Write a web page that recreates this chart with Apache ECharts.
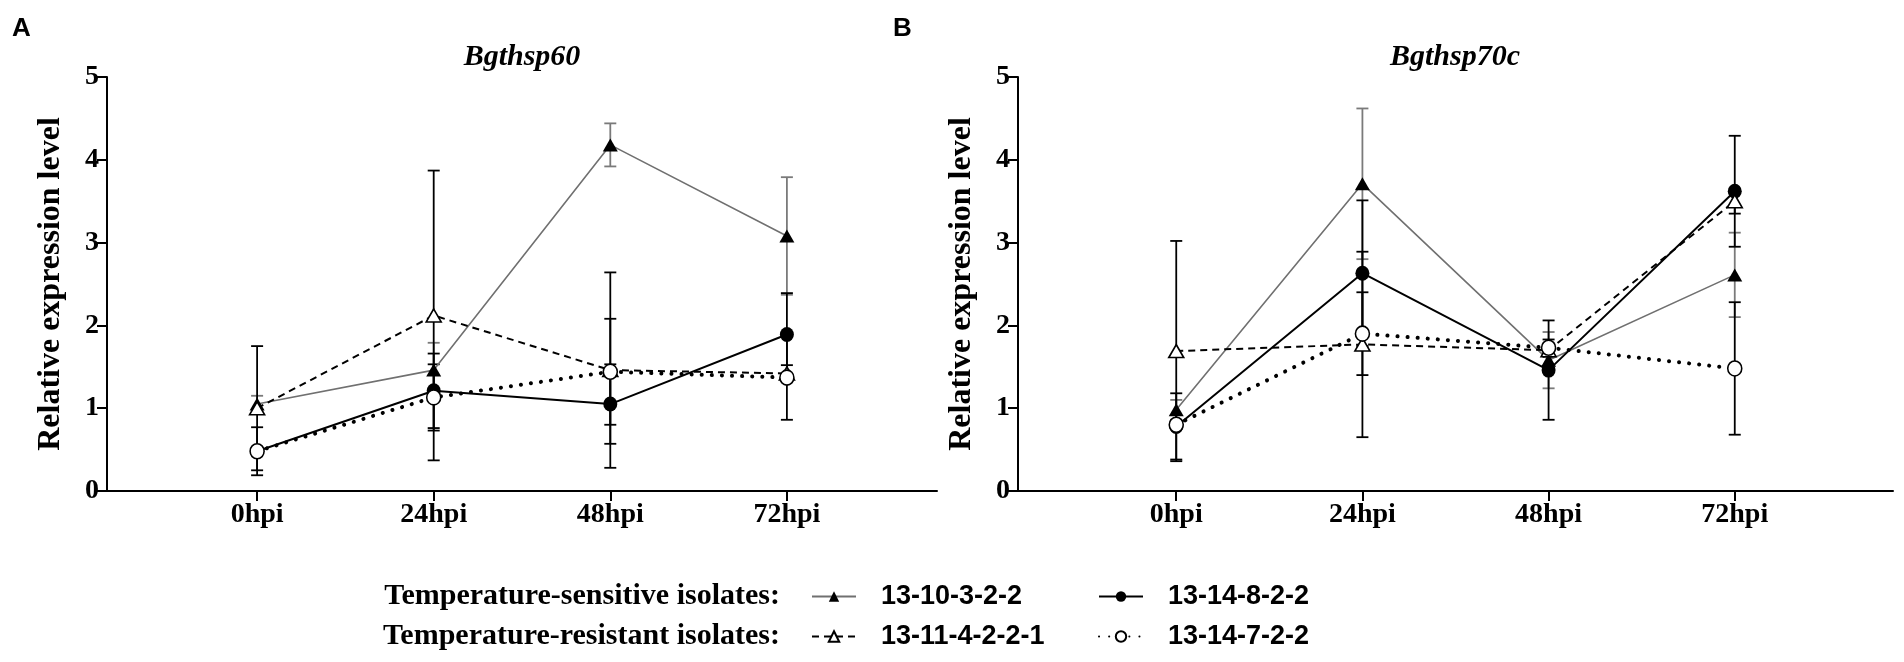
<!DOCTYPE html>
<html>
<head>
<meta charset="utf-8">
<script src="https://cdn.jsdelivr.net/npm/echarts@6/dist/echarts.min.js"></script>
<style>
  html, body { margin: 0; padding: 0; background: #fff; }
  #main { width: 1904px; height: 662px; }
</style>
</head>
<body>
<div id="main"></div>
<script>
// x categories and y ticks
const categories = ['0hpi', '24hpi', '48hpi', '72hpi'];
const yTicks = [0, 1, 2, 3, 4, 5];
const seriesNames = ['13-10-3-2-2', '13-14-8-2-2', '13-11-4-2-2-1', '13-14-7-2-2'];

// panel A: Bgthsp60 (mean, sd)
const a_sens1 = [1.05, 1.46, 4.18, 3.08];
const a_sens1Sd = [0.10, 0.33, 0.26, 0.71];
const a_sens2 = [0.48, 1.21, 1.05, 1.89];
const a_sens2Sd = [0.29, 0.45, 0.48, 0.50];
const a_res1 = [1.00, 2.12, 1.46, 1.42];
const a_res1Sd = [0.75, 1.75, 1.18, 0.10];
const a_res2 = [0.48, 1.13, 1.44, 1.37];
const a_res2Sd = [0.05, 0.40, 0.64, 0.51];

// panel B: Bgthsp70c (mean, sd)
const b_sens1 = [0.98, 3.71, 1.58, 2.61];
const b_sens1Sd = [0.12, 0.91, 0.34, 0.51];
const b_sens2 = [0.78, 2.63, 1.46, 3.62];
const b_sens2Sd = [0.40, 0.88, 0.60, 0.67];
const b_res1 = [1.69, 1.77, 1.70, 3.50];
const b_res1Sd = [1.33, 1.12, 0.08, 0.15];
const b_res2 = [0.80, 1.90, 1.73, 1.48];
const b_res2Sd = [0.05, 0.50, 0.10, 0.80];

const SERIF = '"Liberation Serif", "Times New Roman", serif';
const SANS = '"Liberation Sans", Arial, sans-serif';

// look of each isolate
const styles = [
  { symbol: 'triangle', size: [15, 13], item: { color: '#000' }, line: { color: '#707070', width: 1.6, type: 'solid' }, bar: '#7a7a7a' },
  { symbol: 'circle', size: [14, 15], item: { color: '#000' }, line: { color: '#000', width: 2, type: 'solid' }, bar: '#000' },
  { symbol: 'triangle', size: [15, 13], item: { color: '#fff', borderColor: '#000', borderWidth: 1.6 }, line: { color: '#000', width: 2, type: [7, 5] }, bar: '#000' },
  { symbol: 'circle', size: [14, 15], item: { color: '#fff', borderColor: '#000', borderWidth: 1.6 }, line: { color: '#000', width: 4, type: [0.1, 10], cap: 'round' }, bar: '#000' }
];

function errorSeries(mean, sd, axis, color) {
  return {
    type: 'custom',
    xAxisIndex: axis,
    yAxisIndex: axis,
    z: 1,
    silent: true,
    encode: { x: 0, y: [1, 2] },
    data: mean.map((v, i) => [i, v - sd[i], v + sd[i]]),
    renderItem: function (params, api) {
      const lo = api.coord([api.value(0), api.value(1)]);
      const hi = api.coord([api.value(0), api.value(2)]);
      const w = 6;
      const st = { stroke: color, lineWidth: 1.8 };
      return {
        type: 'group',
        children: [
          { type: 'line', shape: { x1: lo[0], y1: lo[1], x2: hi[0], y2: hi[1] }, style: st },
          { type: 'line', shape: { x1: hi[0] - w, y1: hi[1], x2: hi[0] + w, y2: hi[1] }, style: st },
          { type: 'line', shape: { x1: lo[0] - w, y1: lo[1], x2: lo[0] + w, y2: lo[1] }, style: st }
        ]
      };
    }
  };
}

function lineSeries(k, mean, axis) {
  const s = styles[k];
  return {
    name: seriesNames[k],
    type: 'line',
    xAxisIndex: axis,
    yAxisIndex: axis,
    z: 3,
    data: mean.map((v, i) => [i, v]),
    symbol: s.symbol,
    symbolSize: s.size,
    itemStyle: s.item,
    lineStyle: s.line
  };
}

function xAxisFor(grid) {
  return {
    type: 'value',
    gridIndex: grid,
    min: -0.85,
    max: 3.85,
    splitLine: { show: false },
    axisLine: { show: true, onZero: false, lineStyle: { color: '#000', width: 2 } },
    axisTick: { show: true, customValues: [0, 1, 2, 3], length: 10, lineStyle: { color: '#000', width: 2 } },
    axisLabel: {
      customValues: [0, 1, 2, 3],
      formatter: v => categories[Math.round(v)],
      margin: 10,
      color: '#000',
      fontFamily: SERIF,
      fontWeight: 'bold',
      fontSize: 28
    }
  };
}

function yAxisFor(grid) {
  return {
    type: 'value',
    gridIndex: grid,
    min: yTicks[0],
    max: yTicks[yTicks.length - 1],
    interval: 1,
    splitLine: { show: false },
    axisLine: { show: true, onZero: false, lineStyle: { color: '#000', width: 2 } },
    axisTick: { show: true, length: 10, lineStyle: { color: '#000', width: 2 } },
    axisLabel: { color: '#000', fontFamily: SERIF, fontWeight: 'bold', fontSize: 28, margin: 8 },
    name: 'Relative expression level',
    nameLocation: 'middle',
    nameGap: 40,
    nameTextStyle: { color: '#000', fontFamily: SERIF, fontWeight: 'bold', fontSize: 32 }
  };
}

function legendAt(name, left, top) {
  return {
    data: [name],
    left: left,
    top: top,
    itemWidth: 44,
    itemHeight: 13,
    selectedMode: false,
    textStyle: { color: '#000', fontFamily: SANS, fontWeight: 'bold', fontSize: 27, padding: [0, 0, 0, 20] }
  };
}

const chart = echarts.init(document.getElementById('main'));

const panels = [
  [a_sens1, a_sens2, a_res1, a_res2],
  [b_sens1, b_sens2, b_res1, b_res2]
];
const sds = [
  [a_sens1Sd, a_sens2Sd, a_res1Sd, a_res2Sd],
  [b_sens1Sd, b_sens2Sd, b_res1Sd, b_res2Sd]
];

const series = [];
panels.forEach((means, p) => {
  means.forEach((m, k) => series.push(errorSeries(m, sds[p][k], p, styles[k].bar)));
  means.forEach((m, k) => series.push(lineSeries(k, m, p)));
});

chart.setOption({
  backgroundColor: '#fff',
  animation: false,
  grid: [
    { left: 107, top: 77, width: 830, height: 414 },
    { left: 1018, top: 77, width: 875, height: 414 }
  ],
  xAxis: [xAxisFor(0), xAxisFor(1)],
  yAxis: [yAxisFor(0), yAxisFor(1)],
  legend: [
    legendAt(seriesNames[0], 806, 578),
    legendAt(seriesNames[1], 1093, 578),
    legendAt(seriesNames[2], 806, 618),
    legendAt(seriesNames[3], 1093, 618)
  ],
  graphic: [
    { type: 'text', left: 12, top: 16, style: { text: 'A', font: 'bold 26px ' + SANS, fill: '#000' } },
    { type: 'text', left: 893, top: 16, style: { text: 'B', font: 'bold 26px ' + SANS, fill: '#000' } },
    { type: 'text', x: 522, y: 57, style: { text: 'Bgthsp60', font: 'italic bold 30px ' + SERIF, fill: '#000', align: 'center', verticalAlign: 'middle' } },
    { type: 'text', x: 1455, y: 57, style: { text: 'Bgthsp70c', font: 'italic bold 30px ' + SERIF, fill: '#000', align: 'center', verticalAlign: 'middle' } },
    { type: 'text', x: 780, y: 596, style: { text: 'Temperature-sensitive isolates:', font: 'bold 30px ' + SERIF, fill: '#000', align: 'right', verticalAlign: 'middle' } },
    { type: 'text', x: 780, y: 636, style: { text: 'Temperature-resistant isolates:', font: 'bold 30px ' + SERIF, fill: '#000', align: 'right', verticalAlign: 'middle' } }
  ],
  series: series
});
</script>
</body>
</html>
